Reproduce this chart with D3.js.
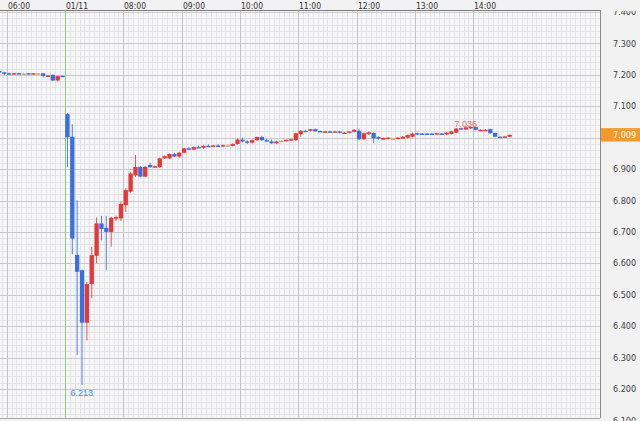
<!DOCTYPE html>
<html><head><meta charset="utf-8">
<script src="https://cdn.jsdelivr.net/npm/d3@7"></script>
<style>html,body{margin:0;padding:0;background:#f2f2f2;}svg{display:block;}</style>
</head><body>
<svg id="chart" width="640" height="421"></svg>
<script>
// ---- data ----
const times = ["05:50","05:55","06:00","06:05","06:10","06:15","06:20","06:25","06:30","06:35","06:40","06:45","06:50","06:55",
"07:00","07:05","07:10","07:15","07:20","07:25","07:30","07:35","07:40","07:45","07:50","07:55",
"08:00","08:05","08:10","08:15","08:20","08:25","08:30","08:35","08:40","08:45","08:50","08:55",
"09:00","09:05","09:10","09:15","09:20","09:25","09:30","09:35","09:40","09:45","09:50","09:55",
"10:00","10:05","10:10","10:15","10:20","10:25","10:30","10:35","10:40","10:45","10:50","10:55",
"11:00","11:05","11:10","11:15","11:20","11:25","11:30","11:35","11:40","11:45","11:50","11:55",
"12:00","12:05","12:10","12:15","12:20","12:25","12:30","12:35","12:40","12:45","12:50","12:55",
"13:00","13:05","13:10","13:15","13:20","13:25","13:30","13:35","13:40","13:45","13:50","13:55",
"14:00","14:05","14:10","14:15","14:20","14:25","14:30","14:35"];
const opens = [7.212,7.208,7.205,7.203,7.205,7.204,7.205,7.203,7.205,7.205,7.196,7.200,7.182,7.197,
7.075,7.003,6.627,6.578,6.411,6.534,6.624,6.727,6.713,6.700,6.742,6.743,
6.785,6.828,6.880,6.907,6.876,6.913,6.905,6.906,6.934,6.934,6.948,6.940,
6.952,6.966,6.962,6.970,6.968,6.974,6.972,6.975,6.973,6.976,6.974,6.980,
6.994,6.988,6.984,6.992,7.002,6.992,6.988,6.982,6.990,6.990,6.992,6.992,
7.011,7.022,7.022,7.027,7.021,7.019,7.020,7.018,7.020,7.014,7.016,7.019,
7.022,6.995,7.011,7.015,7.002,6.994,6.997,6.998,6.997,6.997,7.000,7.003,
7.014,7.013,7.013,7.013,7.010,7.013,7.010,7.012,7.016,7.030,7.026,7.030,
7.034,7.023,7.023,7.027,7.015,7.003,7.003,7.003];
const highs = [7.214,7.210,7.207,7.206,7.207,7.205,7.206,7.206,7.206,7.206,7.199,7.201,7.197,7.198,
7.078,7.043,6.801,6.580,6.540,6.652,6.746,6.751,6.751,6.748,6.752,6.796,
6.839,6.890,6.945,6.910,6.910,6.920,6.911,6.936,6.943,6.950,6.952,6.955,
6.968,6.970,6.972,6.975,6.976,6.978,6.977,6.979,6.978,6.978,6.982,6.998,
7.000,6.992,6.994,7.004,7.006,6.996,6.994,6.990,6.992,6.994,6.996,7.016,
7.024,7.024,7.028,7.029,7.023,7.022,7.022,7.022,7.022,7.018,7.021,7.027,
7.027,7.016,7.020,7.017,7.004,7.000,7.002,6.999,7.002,7.005,7.010,7.016,
7.016,7.015,7.015,7.015,7.016,7.015,7.018,7.021,7.031,7.032,7.036,7.035,
7.035,7.027,7.027,7.029,7.016,7.004,7.006,7.010];
const lows = [7.207,7.199,7.200,7.202,7.202,7.203,7.202,7.202,7.204,7.192,7.195,7.180,7.179,7.193,
6.907,6.629,6.308,6.213,6.355,6.489,6.600,6.673,6.579,6.653,6.735,6.735,
6.764,6.825,6.875,6.874,6.874,6.904,6.903,6.904,6.932,6.932,6.938,6.936,
6.950,6.960,6.960,6.966,6.965,6.970,6.970,6.972,6.971,6.972,6.972,6.978,
6.985,6.980,6.982,6.990,6.990,6.985,6.980,6.980,6.988,6.988,6.990,6.990,
7.003,7.020,7.020,7.019,7.018,7.017,7.017,7.016,7.014,7.012,7.014,7.017,
6.993,6.993,7.009,6.982,6.994,6.993,6.995,6.996,6.995,6.996,6.998,7.001,
7.008,7.009,7.009,7.009,7.009,7.009,7.008,7.010,7.014,7.025,7.024,7.028,
7.024,7.021,7.021,7.013,7.001,7.001,7.002,7.002];
const closes = [7.208,7.204,7.203,7.205,7.203,7.204,7.203,7.205,7.205,7.197,7.198,7.182,7.196,7.194,
7.001,6.679,6.573,6.411,6.534,6.626,6.727,6.709,6.700,6.745,6.747,6.789,
6.833,6.886,6.907,6.876,6.907,6.906,6.909,6.934,6.941,6.948,6.940,6.952,
6.966,6.962,6.970,6.968,6.974,6.972,6.975,6.973,6.976,6.976,6.980,6.994,
6.988,6.984,6.992,7.002,6.992,6.988,6.982,6.988,6.990,6.993,6.995,7.014,
7.022,7.021,7.027,7.020,7.019,7.020,7.019,7.020,7.016,7.016,7.020,7.025,
6.995,7.014,7.017,6.998,6.997,6.999,7.000,6.998,7.000,7.003,7.008,7.013,
7.010,7.010,7.010,7.011,7.014,7.010,7.016,7.020,7.029,7.026,7.033,7.034,
7.025,7.025,7.025,7.014,7.003,7.002,7.004,7.009];
const hourTicks = ["06:00","07:00","08:00","09:00","10:00","11:00","12:00","13:00","14:00"];
const hourLabels = ["06:00","01/11","08:00","09:00","10:00","11:00","12:00","13:00","14:00"];
const priceTicks = [6.1,6.2,6.3,6.4,6.5,6.6,6.7,6.8,6.9,7.0,7.1,7.2,7.3,7.4];
const lastPrice = 7.009;
const dayBreak = "07:00";

// ---- setup ----
const W = 640, H = 421, plotR = 600, plotT = 10, plotB = 418;
const parse = d3.timeParse("%H:%M");
const svg = d3.select("#chart");
const t0 = new Date(1900,0,1,5,53,8), t1 = new Date(1900,0,1,16,10,24);
const x = d3.scaleTime().domain([t0, t1]).range([0, plotR]);
const y = d3.scaleLinear().domain([6.2, 7.4]).range([389, 12]);

const data = times.map((t,i)=>({t:parse(t), o:opens[i], h:highs[i], l:lows[i], c:closes[i]}));
const session = data.filter(d => d.t >= parse(dayBreak));

svg.append("rect").attr("width",W).attr("height",H).attr("fill","#f2f2f2");
svg.append("rect").attr("x",0).attr("y",plotT).attr("width",plotR).attr("height",plotB-plotT).attr("fill","#f6f6f7");

svg.append("clipPath").attr("id","pc").append("rect")
  .attr("x",0).attr("y",plotT).attr("width",plotR).attr("height",plotB-plotT);
const plot = svg.append("g").attr("clip-path","url(#pc)");

// minor grid
const minorT = d3.timeMinute.every(5).range(t0, t1);
plot.append("g").selectAll("line").data(minorT).join("line")
  .attr("x1",d=>Math.round(x(d))+0.5).attr("x2",d=>Math.round(x(d))+0.5)
  .attr("y1",plotT).attr("y2",plotB).attr("stroke","#e3e3e8").attr("stroke-width",1);
const minorP = d3.range(305, 371).map(v=>v/50);
plot.append("g").selectAll("line").data(minorP).join("line")
  .attr("y1",d=>Math.round(y(d))+0.5).attr("y2",d=>Math.round(y(d))+0.5)
  .attr("x1",0).attr("x2",plotR).attr("stroke","#e3e3e8").attr("stroke-width",1);
// major grid
plot.append("g").selectAll("line").data(priceTicks).join("line")
  .attr("y1",d=>Math.round(y(d))+0.5).attr("y2",d=>Math.round(y(d))+0.5)
  .attr("x1",0).attr("x2",plotR).attr("stroke","#cacacd");
plot.append("g").selectAll("line").data(hourTicks.map(parse)).join("line")
  .attr("x1",d=>Math.round(x(d))+0.5).attr("x2",d=>Math.round(x(d))+0.5)
  .attr("y1",plotT).attr("y2",plotB).attr("stroke",(d,i)=>hourTicks[i]===dayBreak?"#86cf80":"#c4c4c8");

// candles
const bw = 4.3;
const colorOf = d => d.c > d.o ? "#e5383b" : (d.c < d.o ? "#3a6fe0" : "#c8a860");
const cg = plot.append("g").selectAll("g").data(data).join("g");
cg.append("line")
  .attr("x1",d=>x(d.t)+bw/2+0.3).attr("x2",d=>x(d.t)+bw/2+0.3)
  .attr("y1",d=>y(d.h)).attr("y2",d=>y(d.l))
  .attr("stroke",colorOf).attr("stroke-width",1).attr("opacity",0.85);
cg.append("rect")
  .attr("x",d=>x(d.t)+0.3).attr("width",bw)
  .attr("y",d=>Math.min(y(d.o),y(d.c)))
  .attr("height",d=>Math.max(1.4, Math.abs(y(d.o)-y(d.c))))
  .attr("fill",colorOf);

// low of the session, and the rebound high after it
const loIdx = d3.minIndex(session, d=>d.l);
const lo = session[loIdx];
const after = session.slice(loIdx);
const hi = after[d3.maxIndex(after, d=>d.h)];
plot.append("text").attr("x", x(hi.t)+bw/2).attr("y", y(hi.h)+0.5)
  .attr("text-anchor","middle").attr("font-family","'Liberation Sans',Arial,sans-serif")
  .attr("font-size",9).attr("fill","#e86a6a").text(d3.format(".3f")(hi.h));
plot.append("text").attr("x", x(lo.t)+bw/2).attr("y", y(lo.l)+11)
  .attr("text-anchor","middle").attr("font-family","'Liberation Sans',Arial,sans-serif")
  .attr("font-size",9).attr("fill","#4a8fe6").text(d3.format(".3f")(lo.l));

// borders
svg.append("line").attr("x1",0).attr("x2",plotR).attr("y1",plotT+0.5).attr("y2",plotT+0.5).attr("stroke","#7a7a7a");
svg.append("line").attr("x1",plotR+0.5).attr("x2",plotR+0.5).attr("y1",plotT).attr("y2",plotB).attr("stroke","#8a8a8a");
svg.append("line").attr("x1",0).attr("x2",plotR).attr("y1",plotB+0.5).attr("y2",plotB+0.5).attr("stroke","#a8a8a8");

// right axis
const narrow = "'Liberation Sans Narrow','Arial Narrow','DejaVu Sans Condensed',sans-serif";
svg.append("clipPath").attr("id","rc").append("rect").attr("x",plotR+1).attr("y",plotT+1).attr("width",W-plotR).attr("height",H-plotT);
const rg = svg.append("g").attr("clip-path","url(#rc)");
rg.selectAll("text").data(priceTicks.filter(v => Math.abs(y(v)-y(lastPrice)) > 10)).join("text")
  .attr("x",613).attr("y",d=>y(d)).attr("dy","0.35em")
  .attr("font-family",narrow).attr("font-size",9).attr("fill","#444")
  .text(d=>d3.format(".3f")(d));
// last price tag
rg.append("rect").attr("x",plotR+1).attr("y",y(lastPrice)-6.7).attr("width",W-plotR).attr("height",13.4).attr("fill","#f39a2c");
rg.append("text").attr("x",613).attr("y",y(lastPrice)).attr("dy","0.35em")
  .attr("font-family",narrow).attr("font-size",9).attr("fill","#ffffff").text(d3.format(".3f")(lastPrice));

// top time axis
svg.selectAll("text.tx").data(hourTicks).join("text").attr("class","tx")
  .attr("x",d=>Math.round(x(parse(d)))+1).attr("y",8.6)
  .attr("font-family",narrow).attr("font-size",8.5).attr("fill","#333")
  .text((d,i)=>hourLabels[i]);
</script>
</body></html>
